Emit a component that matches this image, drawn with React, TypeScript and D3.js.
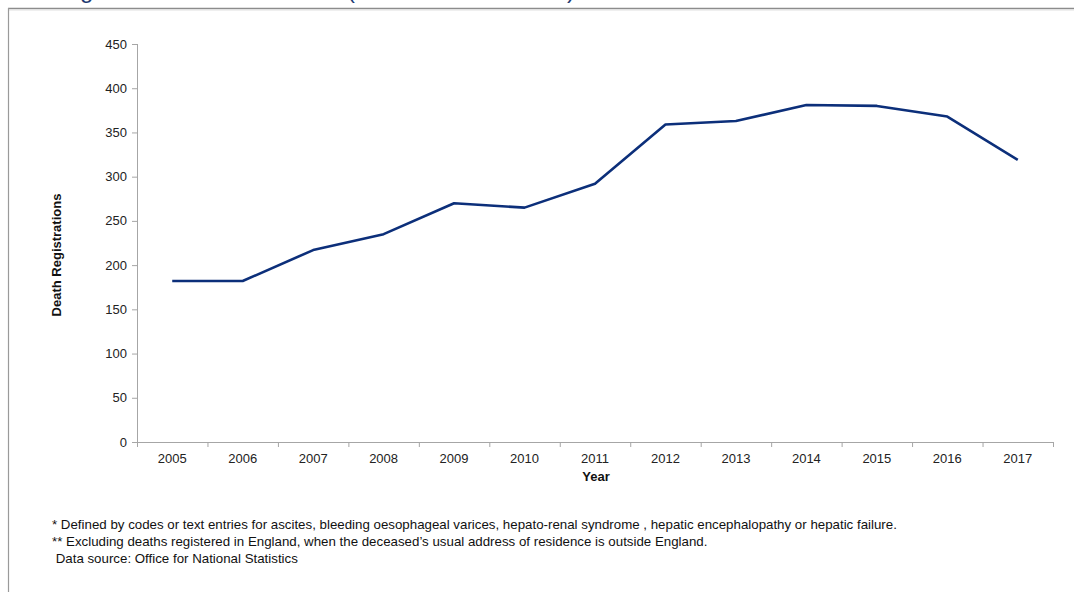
import React from "react";
import * as d3 from "d3";

const years = ["2005","2006","2007","2008","2009","2010","2011","2012","2013","2014","2015","2016","2017"];
const deaths = [182, 182, 217, 235, 270, 265, 292, 359, 363, 381, 380, 368, 319];
const yTicks = [0, 50, 100, 150, 200, 250, 300, 350, 400, 450];
const footnotes = [
  "* Defined by codes or text entries for ascites, bleeding oesophageal varices, hepato-renal syndrome , hepatic encephalopathy or hepatic failure.",
  "** Excluding deaths registered in England, when the deceased\u2019s usual address of residence is outside England.",
  " Data source: Office for National Statistics",
];

const W = 1074, H = 592;
const left = 137, right = 1053, top = 44, bottom = 442;

export default function App() {
  const x = d3.scaleBand().domain(years).range([left, right]);
  const y = d3.scaleLinear().domain([0, 450]).range([bottom, top]);
  const line = d3.line<number>()
    .x((_, i) => (x(years[i]) as number) + x.bandwidth() / 2)
    .y((d) => y(d));
  const font = "'Liberation Sans', Arial, sans-serif";
  const axisColor = "#a6a6a6";
  const tickEdges = years.map((yr) => x(yr) as number).concat([right]);
  return (
    <svg width={W} height={H} style={{ position: "absolute", left: 0, top: 0, background: "#fff" }} fontFamily={font}>
      {/* partially visible title */}
      <g fill="#1f3b73" fontSize={24}>
        <text x={80} y={-2}>g</text>
        <text x={347} y={-2}>(</text>
        <text x={567} y={-2}>)</text>
      </g>
      {/* frame */}
      <line x1={8} x2={W} y1={8.5} y2={8.5} stroke="#8c8c8c" strokeWidth={1.5} />
      <line x1={8} x2={W} y1={10} y2={10} stroke="#e0e0e0" strokeWidth={1} />
      <line x1={8.5} x2={8.5} y1={8} y2={H} stroke="#9a9a9a" strokeWidth={1.2} />

      {/* y axis */}
      <line x1={left + 0.5} x2={left + 0.5} y1={top} y2={bottom} stroke={axisColor} strokeWidth={1} />
      {yTicks.map((t) => (
        <g key={t}>
          <line x1={left - 5} x2={left} y1={y(t) + 0.5} y2={y(t) + 0.5} stroke={axisColor} />
          <text x={left - 10} y={y(t)} dy="0.35em" textAnchor="end" fontSize={13} fill="#222">{t}</text>
        </g>
      ))}
      {/* x axis */}
      <line x1={left} x2={right} y1={bottom + 0.5} y2={bottom + 0.5} stroke={axisColor} strokeWidth={1} />
      {tickEdges.map((tx, i) => (
        <line key={i} x1={tx + 0.5} x2={tx + 0.5} y1={bottom} y2={bottom + 5} stroke={axisColor} />
      ))}
      {years.map((yr) => (
        <text key={yr} x={(x(yr) as number) + x.bandwidth() / 2} y={bottom + 21} textAnchor="middle" fontSize={13} fill="#222">{yr}</text>
      ))}
      <text x={596} y={481} textAnchor="middle" fontSize={13} fontWeight="bold" fill="#111">Year</text>
      <text transform={`translate(61,${(top + bottom) / 2 + 12}) rotate(-90)`} textAnchor="middle" fontSize={13} fontWeight="bold" fill="#111">Death Registrations</text>

      {/* data line */}
      <path d={line(deaths) || ""} fill="none" stroke="#0c2f7a" strokeWidth={2.6} strokeLinejoin="round" />

      {/* footnotes */}
      {footnotes.map((f, i) => (
        <text key={i} x={52} y={529 + i * 17} fontSize={13.3} fill="#111" style={{ whiteSpace: "pre" }}>{f}</text>
      ))}
    </svg>
  );
}
